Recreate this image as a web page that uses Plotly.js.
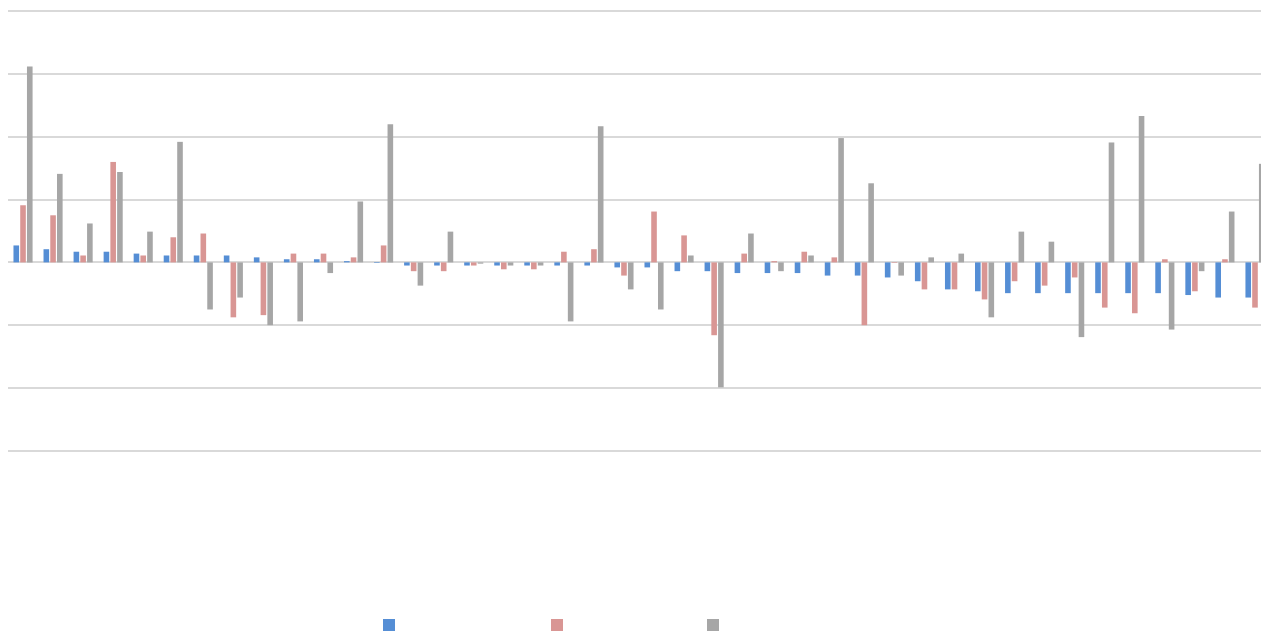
<!DOCTYPE html>
<html>
<head>
<meta charset="utf-8">
<script src="https://cdn.plot.ly/plotly-3.0.1.min.js"></script>
<style>html,body{margin:0;padding:0;background:#fff;}#chart{width:1261px;height:634px;}</style>
</head>
<body>
<div id="chart"></div>
<script>
const categories = ["1","2","3","4","5","6","7","8","9","10","11","12","13","14","15","16","17","18","19","20","21","22","23","24","25","26","27","28","29","30","31","32","33","34","35","36","37","38","39","40","41","42"];
const seriesBlue = [0.27,0.21,0.17,0.17,0.14,0.11,0.11,0.11,0.08,0.05,0.05,0.02,-0.01,-0.05,-0.05,-0.05,-0.05,-0.05,-0.05,-0.05,-0.08,-0.08,-0.14,-0.14,-0.17,-0.17,-0.17,-0.21,-0.21,-0.24,-0.30,-0.43,-0.46,-0.49,-0.49,-0.49,-0.49,-0.49,-0.49,-0.52,-0.56,-0.56];
const seriesRed = [0.91,0.75,0.11,1.60,0.11,0.40,0.46,-0.875,-0.84,0.14,0.14,0.08,0.27,-0.14,-0.14,-0.05,-0.11,-0.11,0.17,0.21,-0.21,0.81,0.43,-1.16,0.14,0.02,0.17,0.08,-1.0,-0.01,-0.43,-0.43,-0.59,-0.30,-0.37,-0.24,-0.72,-0.81,0.05,-0.46,0.05,-0.72];
const seriesGray = [3.12,1.41,0.62,1.44,0.49,1.92,-0.75,-0.56,-1.0,-0.94,-0.17,0.97,2.20,-0.37,0.49,-0.02,-0.05,-0.05,-0.94,2.17,-0.43,-0.75,0.11,-1.99,0.46,-0.14,0.11,1.98,1.26,-0.21,0.08,0.14,-0.875,0.49,0.33,-1.19,1.91,2.33,-1.07,-0.14,0.81,1.57];
const seriesNames = ["", "", ""];

const colors = ["#558ED5", "#D99694", "#A6A6A6"];
const W = 1261, H = 634;

const traces = [seriesBlue, seriesRed, seriesGray].map((vals, i) => ({
  type: "bar",
  x: categories,
  y: vals,
  name: seriesNames[i],
  marker: {color: colors[i], line: {width: 0}},
  legend: i === 0 ? "legend" : ("legend" + (i + 1)),
  hoverinfo: "y"
}));

function leg(cx) {
  return {
    xref: "container", yref: "container",
    x: (cx - 20) / W, xanchor: "left",
    y: 1 - 625 / H, yanchor: "middle",
    orientation: "h",
    bgcolor: "rgba(0,0,0,0)",
    font: {family: "Liberation Sans, Arial, sans-serif", size: 12, color: "#595959"}
  };
}

const layout = {
  width: W, height: H,
  margin: {l: 8, r: 0, t: 10, b: 182, pad: 0},
  paper_bgcolor: "#ffffff",
  plot_bgcolor: "#ffffff",
  barmode: "group",
  bargap: 0.326,
  bargroupgap: 0.17,
  showlegend: true,
  legend: leg(389),
  legend2: leg(557),
  legend3: leg(713),
  xaxis: {
    type: "category",
    range: [-0.5, 41.2],
    showticklabels: false,
    showgrid: false,
    zeroline: false,
    showline: false,
    ticks: ""
  },
  yaxis: {
    range: [-3.02, 4.02],
    tickmode: "linear",
    tick0: 0,
    dtick: 1,
    showticklabels: false,
    showgrid: true,
    gridcolor: "#D9D9D9",
    gridwidth: 1.8,
    zeroline: true,
    zerolinecolor: "#D9D9D9",
    zerolinewidth: 1.8,
    showline: false,
    ticks: ""
  }
};

Plotly.newPlot("chart", traces, layout, {displayModeBar: false, staticPlot: true});
</script>
</body>
</html>
